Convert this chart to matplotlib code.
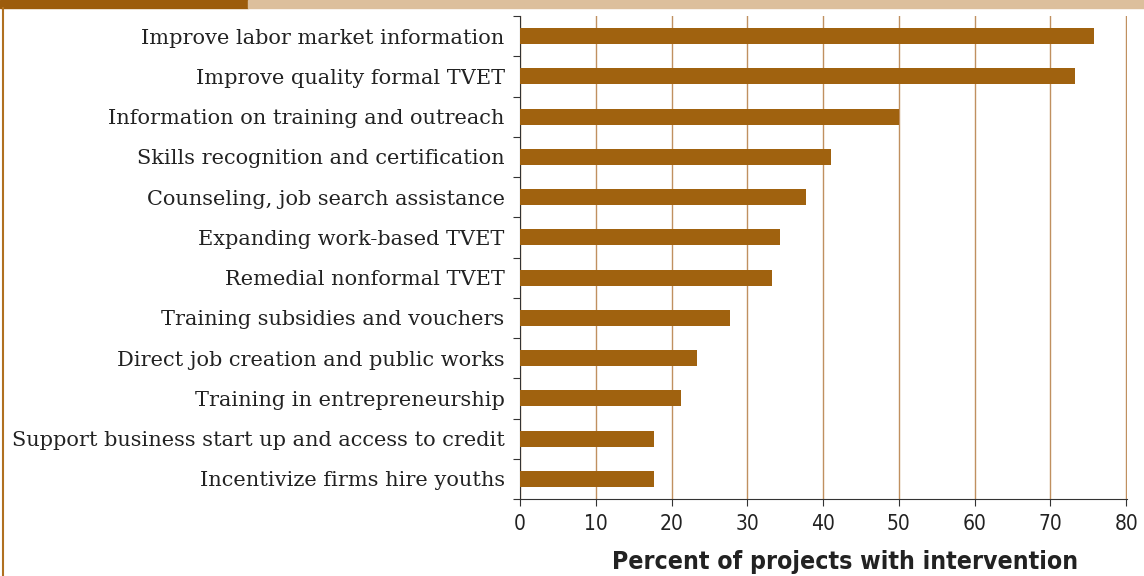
import numpy as np
import matplotlib.pyplot as plt
from matplotlib.patches import Rectangle
from matplotlib.lines import Line2D

categories = ['Improve labor market information',
              'Improve quality formal TVET',
              'Information on training and outreach',
              'Skills recognition and certification',
              'Counseling, job search assistance',
              'Expanding work-based TVET',
              'Remedial nonformal TVET',
              'Training subsidies and vouchers',
              'Direct job creation and public works',
              'Training in entrepreneurship',
              'Support business start up and access to credit',
              'Incentivize firms hire youths']
values = [75.8, 73.3, 50.0, 41.1, 37.8, 34.3, 33.3, 27.7, 23.3, 21.2, 17.7, 17.7]
xticks = [0, 10, 20, 30, 40, 50, 60, 70, 80]

bar_col = '#a0620f'
grid_col = '#c09060'

fig = plt.figure(figsize=(11.44, 5.76), dpi=100)
ax = fig.add_axes([520/1144, 1-499/576, 607/1144, 483/576])

y = np.arange(len(categories))
ax.barh(y, values, height=0.4, color=bar_col, zorder=3)
ax.set_ylim(len(categories)-0.5, -0.5)
ax.set_xlim(0, 80.1)

ax.set_xticks(xticks)
ax.set_xticklabels([str(t) for t in xticks], fontsize=15, family='DejaVu Sans',
                   fontstretch='condensed', color='#222222')
ax.set_yticks(y)
ax.set_yticklabels(categories, fontsize=15, family='DejaVu Serif', color='#222222')
ax.set_yticks(np.arange(len(categories)+1)-0.5, minor=True)
ax.tick_params(axis='y', which='major', length=0, pad=11)
ax.tick_params(axis='y', which='minor', length=5, width=0.8, color='#333333')
ax.tick_params(axis='x', length=5, width=0.8, color='#333333', pad=6)

ax.grid(axis='x', color=grid_col, linewidth=1, zorder=0)
for s in ['top', 'right']:
    ax.spines[s].set_visible(False)
ax.spines['left'].set_color('#333333')
ax.spines['bottom'].set_color('#333333')
ax.spines['left'].set_linewidth(0.8)
ax.spines['bottom'].set_linewidth(0.8)

ax.set_xlabel('Percent of projects with intervention', fontsize=17.8, fontweight='bold',
              family='DejaVu Sans', color='#222222', fontstretch='condensed')
ax.xaxis.set_label_coords(0.535, -0.105)

# banner and frame
fig.patches.append(Rectangle((0, 1-8/576), 248/1144, 8/576, transform=fig.transFigure,
                             color='#9c5c0c', zorder=0))
fig.patches.append(Rectangle((248/1144, 1-8/576), 1-248/1144, 8/576, transform=fig.transFigure,
                             color='#dcbf9c', zorder=0))
fig.lines.append(Line2D([3/1144, 3/1144], [0, 1-8/576], transform=fig.transFigure,
                        color='#b07020', linewidth=1.5))

plt.savefig('out.png', dpi=100)
